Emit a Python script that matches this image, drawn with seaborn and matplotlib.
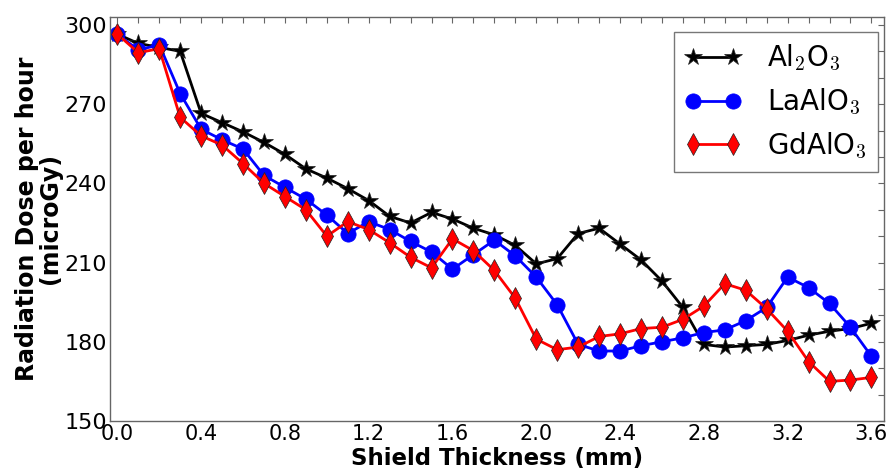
import matplotlib
matplotlib.use('Agg')
import matplotlib.pyplot as plt
import seaborn as sns
import pandas as pd
from matplotlib.ticker import MultipleLocator
from matplotlib.font_manager import FontProperties, fontManager

thickness = [0.0, 0.1, 0.2, 0.3, 0.4, 0.5, 0.6, 0.7, 0.8, 0.9,
             1.0, 1.1, 1.2, 1.3, 1.4, 1.5, 1.6, 1.7, 1.8, 1.9,
             2.0, 2.1, 2.2, 2.3, 2.4, 2.5, 2.6, 2.7, 2.8, 2.9,
             3.0, 3.1, 3.2, 3.3, 3.4, 3.5, 3.6]

al2o3 = [296.5, 293, 291.5, 290, 266.5, 263, 259.5, 255.5, 251, 245.5,
         242, 238, 233.5, 227.5, 225, 229, 226.5, 223, 220.5, 216.5,
         209.5, 211.5, 221, 223, 217, 211, 203, 193, 179, 178,
         178.5, 179, 180.5, 182.5, 184, 185, 187]

laalo3 = [296.5, 290.5, 292.5, 274, 260.5, 256.5, 253, 243, 238.5, 234,
          228, 221, 225.5, 222.5, 218, 214, 207.5, 213, 218.5, 212.5,
          204.5, 194, 179, 176.5, 176.5, 178.5, 180, 181.5, 183.5, 184.5,
          188, 193, 204.5, 200.5, 194.5, 185.5, 174.5]

gdalo3 = [296.5, 289.5, 291, 265, 258, 254.5, 247.5, 240, 235, 230,
          220, 225.5, 222.5, 217.5, 212, 208, 219, 214.5, 207, 196.5,
          181, 177, 178, 182, 183, 185, 185.5, 188.5, 193.5, 202,
          199.5, 192.5, 184, 172.5, 165, 165.5, 166.5]

labels = [r'Al$_2$O$_3$', r'LaAlO$_3$', r'GdAlO$_3$']
x_ticks = [0.0, 0.4, 0.8, 1.2, 1.6, 2.0, 2.4, 2.8, 3.2, 3.6]
y_ticks = [150, 180, 210, 240, 270, 300]

sns.set_style('white')
plt.rcParams['font.family'] = ['DejaVu Sans']
plt.rcParams['mathtext.fontset'] = 'cm'
plt.rcParams['text.color'] = 'black'
plt.rcParams['axes.labelcolor'] = 'black'
plt.rcParams['xtick.color'] = 'black'
plt.rcParams['ytick.color'] = 'black'

# narrow face for the x tick labels, if one is installed
narrow_file = None
for key in ('DejaVu Sans Condensed', 'Liberation Sans Narrow'):
    for f in fontManager.ttflist:
        if f.name == key and f.style == 'normal' and f.weight in (400, 'normal', 'regular'):
            narrow_file = f.fname
            break
    if narrow_file:
        break

fig = plt.figure(figsize=(8.93, 4.71), dpi=100)
ax = fig.add_axes([0.1232, 0.1062, 0.8667, 0.8577])

series = [al2o3, laalo3, gdalo3]
colors = ['black', 'blue', 'red']
markers = ['*', 'o', 'd']
msizes = [13, 11, 11]
for vals, lab, c, m, ms in zip(series, labels, colors, markers, msizes):
    df = pd.DataFrame({'x': thickness, 'y': vals})
    sns.lineplot(data=df, x='x', y='y', ax=ax, color=c, marker=m,
                 markersize=ms, markeredgecolor='#222222' if c != 'blue' else 'blue',
                 markeredgewidth=0.5, linewidth=2, label=lab)

ax.set_xlim(-0.035, 3.66)
ax.set_ylim(150, 303)
ax.set_xticks(x_ticks)
ax.set_yticks(y_ticks)
ax.xaxis.set_minor_locator(MultipleLocator(0.1))
ax.yaxis.set_minor_locator(MultipleLocator(10))
ax.tick_params(which='both', direction='in', top=True, right=True,
               length=4, width=0.8, color='#666666')
ax.tick_params(axis='y', labelsize=16, pad=2)
ax.tick_params(axis='x', pad=2)

if narrow_file is not None:
    xfp = FontProperties(fname=narrow_file, size=17)
else:
    xfp = FontProperties(family='DejaVu Sans', size=15)
ax.set_xticklabels([f'{t:.1f}' for t in x_ticks], fontproperties=xfp)
ax.set_yticklabels([str(t) for t in y_ticks])

for s in ax.spines.values():
    s.set_color('#666666')
    s.set_linewidth(1.0)

ax.set_xlabel('Shield Thickness (mm)', fontsize=16.5, fontweight='bold',
              labelpad=2)
ax.set_ylabel('Radiation Dose per hour\n(microGy)', fontsize=17,
              fontweight='bold', labelpad=2, linespacing=0.95)

leg = ax.legend(loc='upper right', bbox_to_anchor=(0.992, 0.963),
                borderaxespad=0, numpoints=2, fontsize=20, frameon=True,
                fancybox=False, handlelength=2.04, borderpad=0.4,
                labelspacing=0.5, handletextpad=0.9)
leg.get_frame().set_edgecolor('#555555')
leg.get_frame().set_linewidth(1.0)

fig.savefig('out.png', dpi=100)
